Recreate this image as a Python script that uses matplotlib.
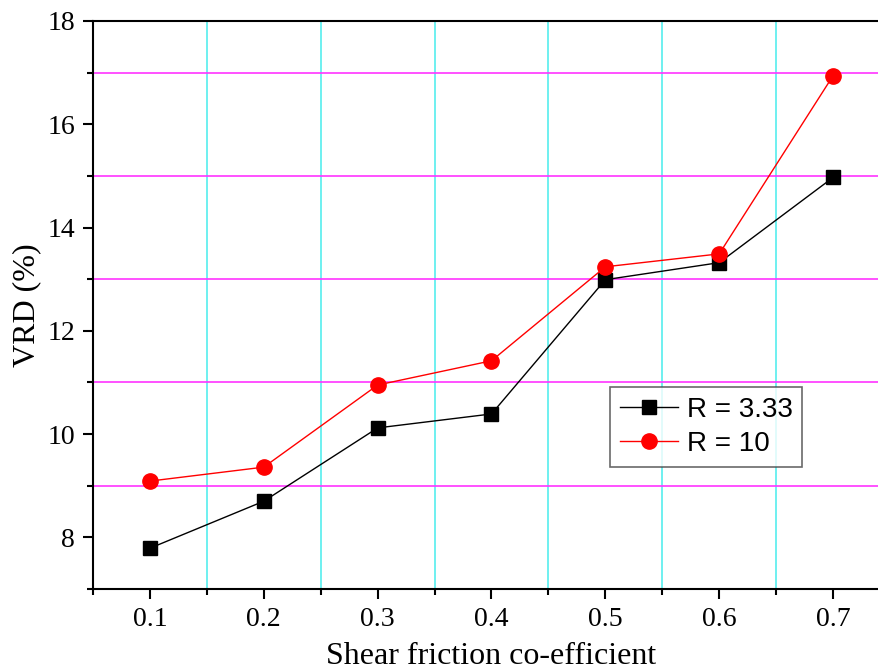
import matplotlib
matplotlib.use('Agg')
import matplotlib.pyplot as plt
from matplotlib.ticker import MultipleLocator

# shear friction coefficient vs VRD for two R values
mu = [0.1, 0.2, 0.3, 0.4, 0.5, 0.6, 0.7]
vrd_r333 = [7.79, 8.70, 10.12, 10.39, 12.99, 13.32, 14.97]
vrd_r10 = [9.09, 9.36, 10.95, 11.42, 13.24, 13.49, 16.94]
xticks = [0.1, 0.2, 0.3, 0.4, 0.5, 0.6, 0.7]
xtick_labels = ['0.1', '0.2', '0.3', '0.4', '0.5', '0.6', '0.7']

serif = 'Liberation Serif'
sans = 'Liberation Sans'

fig = plt.figure(figsize=(8.79, 6.72), dpi=100)
# axes run a little past the right edge of the canvas
ax = fig.add_axes([93 / 879, 1 - 589 / 672, 797 / 879, 568 / 672])

ax.set_xlim(0.05, 0.75)
ax.set_ylim(7, 18)

ax.xaxis.set_minor_locator(MultipleLocator(0.05))
ax.yaxis.set_major_locator(MultipleLocator(2))
ax.yaxis.set_minor_locator(MultipleLocator(1))

# grid only at the minor ticks: cyan verticals, magenta horizontals
for x in [0.15, 0.25, 0.35, 0.45, 0.55, 0.65]:
    ax.axvline(x, color='#55eeee', lw=1.2, zorder=0)
for y in [9, 11, 13, 15, 17]:
    ax.axhline(y, color='#ff33ff', lw=1.2, zorder=0)

ax.plot(mu, vrd_r333, color='black', lw=1, marker='s', markersize=10,
        label='R = 3.33', zorder=3)
ax.plot(mu, vrd_r10, color='red', lw=1, marker='o', markersize=11,
        label='R = 10', zorder=3)

ax.spines['right'].set_visible(False)
for s in ['left', 'bottom', 'top']:
    ax.spines[s].set_linewidth(1.5)

ax.tick_params(which='major', direction='out', length=7, width=1.5,
               labelsize=20, pad=6)
ax.tick_params(which='minor', direction='out', length=4, width=1.5)
ax.tick_params(axis='x', which='both', top=False)
ax.set_xticks(xticks)
ax.set_xticklabels(xtick_labels)
for lbl in ax.get_xticklabels() + ax.get_yticklabels():
    lbl.set_fontfamily(serif)

ax.set_xlabel('Shear friction co-efficient', fontfamily=serif, fontsize=23,
              labelpad=7)
ax.set_ylabel('VRD (%)', fontfamily=serif, fontsize=23, labelpad=4)

leg = ax.legend(loc='upper left', bbox_to_anchor=(0.649, 0.356),
                prop={'family': sans, 'size': 20}, frameon=True, fancybox=False,
                edgecolor='#444444', handlelength=2.1, borderpad=0.35,
                labelspacing=0.3, handletextpad=0.3, borderaxespad=0)
leg.get_frame().set_linewidth(1.2)

fig.savefig('out.png', dpi=100, facecolor='white')
